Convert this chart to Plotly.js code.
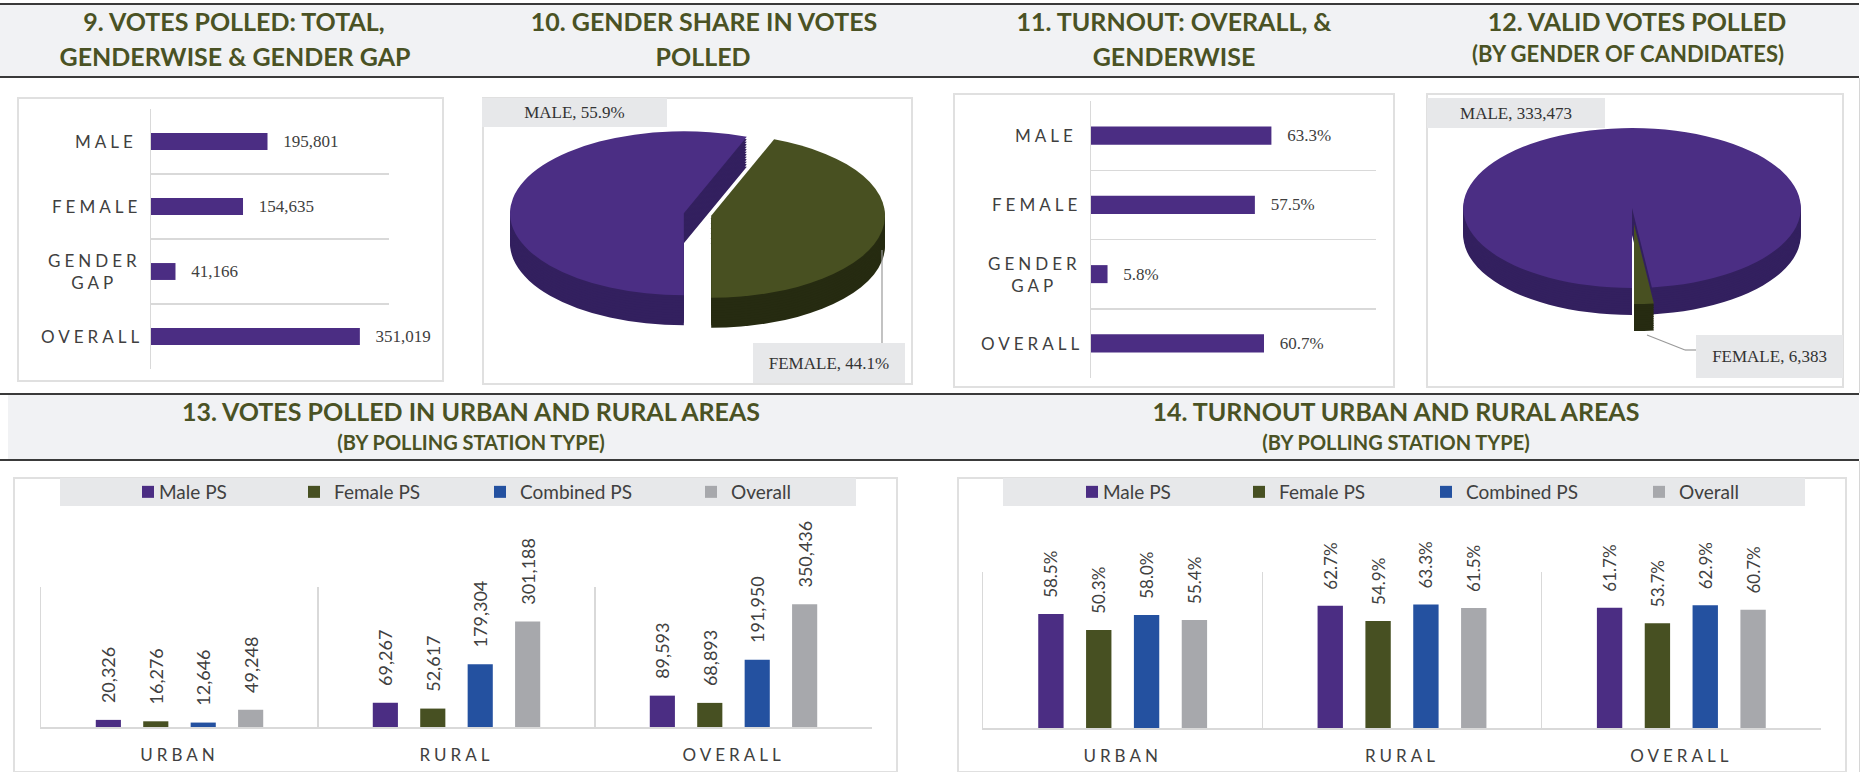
<!DOCTYPE html>
<html>
<head>
<meta charset="utf-8">
<script src="https://cdn.plot.ly/plotly-3.0.1.min.js"></script>
<style>
html,body{margin:0;padding:0;background:#fff;}
#page{position:relative;width:1871px;height:772px;overflow:hidden;background:#fff;}
.bg{position:absolute;background:#f1f2f4;}
.ln{position:absolute;background:#3a3a3a;height:2px;}
.vl{position:absolute;background:#d6d6d6;width:1px;}
.ttl{position:absolute;white-space:nowrap;color:#4a5224;font-family:Lato,'Open Sans',sans-serif;font-weight:700;line-height:1;transform:translateX(-50%);}
.box{position:absolute;box-sizing:border-box;border:2px solid #e0e0e0;background:#fff;}
.plot{position:absolute;}
#c9 .annotation-text,#c11 .annotation-text{letter-spacing:4px;}
#c13 .xtick text,#c14 .xtick text{letter-spacing:4px;}
#c13 .legendtext,#c14 .legendtext{transform:translateX(-9px);}
</style>
</head>
<body>
<div id="page">
  <div class="bg" style="left:0;top:4px;width:1859px;height:73px"></div>
  <div class="ln" style="left:0;top:3px;width:1859px"></div>
  <div class="ln" style="left:0;top:76px;width:1859px"></div>
  <div class="bg" style="left:8px;top:394px;width:1851px;height:66px"></div>
  <div class="ln" style="left:0;top:393px;width:1859px"></div>
  <div class="ln" style="left:0;top:459px;width:1859px"></div>
  <div class="vl" style="left:1859px;top:78px;height:315px"></div>
  <div class="vl" style="left:1859px;top:461px;height:311px"></div>

  <div class="ttl" style="left:234px;top:9px;font-size:25px">9. VOTES POLLED: TOTAL,</div>
  <div class="ttl" style="left:235px;top:44px;font-size:25px">GENDERWISE &amp; GENDER GAP</div>
  <div class="ttl" style="left:704px;top:9px;font-size:25px">10. GENDER SHARE IN VOTES</div>
  <div class="ttl" style="left:703px;top:44px;font-size:25px">POLLED</div>
  <div class="ttl" style="left:1174px;top:9px;font-size:25px">11. TURNOUT: OVERALL, &amp;</div>
  <div class="ttl" style="left:1174px;top:44px;font-size:25px">GENDERWISE</div>
  <div class="ttl" style="left:1637px;top:9px;font-size:25px">12. VALID VOTES POLLED</div>
  <div class="ttl" style="left:1628px;top:43px;font-size:22px">(BY GENDER OF CANDIDATES)</div>
  <div class="ttl" style="left:471px;top:399px;font-size:25px">13. VOTES POLLED IN URBAN AND RURAL AREAS</div>
  <div class="ttl" style="left:471px;top:432px;font-size:20px">(BY POLLING STATION TYPE)</div>
  <div class="ttl" style="left:1396px;top:399px;font-size:25px">14. TURNOUT URBAN AND RURAL AREAS</div>
  <div class="ttl" style="left:1396px;top:432px;font-size:20px">(BY POLLING STATION TYPE)</div>

  <div class="box" style="left:17px;top:97px;width:427px;height:285px"></div>
  <div class="box" style="left:482px;top:97px;width:431px;height:288px"></div>
  <div class="box" style="left:953px;top:93px;width:442px;height:295px"></div>
  <div class="box" style="left:1426px;top:93px;width:418px;height:295px"></div>
  <div class="box" style="left:13px;top:477px;width:885px;height:296px"></div>
  <div class="box" style="left:957px;top:477px;width:890px;height:296px"></div>

  <div id="c9" class="plot" style="left:17px;top:97px"></div>
  <div id="c10" class="plot" style="left:482px;top:97px"></div>
  <div id="c11" class="plot" style="left:953px;top:93px"></div>
  <div id="c12" class="plot" style="left:1426px;top:93px"></div>
  <div id="c13" class="plot" style="left:13px;top:477px"></div>
  <div id="c14" class="plot" style="left:957px;top:477px"></div>
</div>
<script>
// ---------------- DATA ----------------
const genderCats = ['MALE', 'FEMALE', 'GENDER GAP', 'OVERALL'];
const genderCatLabels = ['MALE', 'FEMALE', 'GENDER<br>GAP', 'OVERALL'];
const votesPolled = [195801, 154635, 41166, 351019];
const turnoutGender = [63.3, 57.5, 5.8, 60.7];

const genderLabels = ['MALE', 'FEMALE'];
const genderShareVotes = [55.9, 44.1];
const validVotesByCandGender = [333473, 6383];

const areaCats = ['URBAN', 'RURAL', 'OVERALL'];
const psTypes = ['Male PS', 'Female PS', 'Combined PS', 'Overall'];
const votesMalePS = [20326, 69267, 89593];
const votesFemalePS = [16276, 52617, 68893];
const votesCombinedPS = [12646, 179304, 191950];
const votesOverall = [49248, 301188, 350436];
const turnoutMalePS = [58.5, 62.7, 61.7];
const turnoutFemalePS = [50.3, 54.9, 53.7];
const turnoutCombinedPS = [58.0, 63.3, 62.9];
const turnoutOverall = [55.4, 61.5, 60.7];

// ---------------- STYLE ----------------
const PURPLE = '#4b2d83', OLIVE = '#475022', BLUE = '#2451a0', GRAY = '#a7a8ac';
const SERIES_COLORS = [PURPLE, OLIVE, BLUE, GRAY];
const PIE_TOP = ['#4b2e84', '#485021'];
const PIE_SIDE = ['#33205f', '#262b11'];
const TXT = '#404040', GRID = '#d9d9d9', LABELBG = '#e7e8ea';
const CFG = {staticPlot: true, displayModeBar: false};

// ---------------- HORIZONTAL BARS (9, 11) ----------------
function hbar(id, W, H, m, values, fmt, xmax) {
  const data = [{
    type: 'bar', orientation: 'h', y: genderCats, x: values,
    marker: {color: PURPLE, line: {width: 0}},
    texttemplate: '\u00a0\u00a0\u00a0' + fmt, textposition: 'outside', constraintext: 'none',
    textfont: {family: 'Liberation Serif', size: 17, color: TXT},
    cliponaxis: false, hoverinfo: 'skip'
  }];
  const annotations = genderCats.map((c, i) => ({
    xref: 'paper', yref: 'y', x: 0, y: c, xanchor: 'right', yanchor: 'middle', xshift: -20,
    text: genderCatLabels[i], showarrow: false, align: 'center',
    font: {family: 'Lato', size: 17, color: TXT}
  }));
  const layout = {
    width: W, height: H, margin: Object.assign({pad: 0, autoexpand: false}, m),
    paper_bgcolor: 'rgba(0,0,0,0)', plot_bgcolor: 'rgba(0,0,0,0)', showlegend: false, bargap: 0.74,
    xaxis: {range: [0, xmax], showgrid: false, zeroline: false, showticklabels: false, ticks: '', showline: false},
    yaxis: {type: 'category', categoryorder: 'array', categoryarray: genderCats,
      range: [genderCats.length - 0.5, -0.5], tickson: 'boundaries', showgrid: true, gridcolor: GRID, gridwidth: 1.5,
      showline: true, linecolor: GRID, linewidth: 1.5, showticklabels: false, ticks: '', zeroline: false},
    annotations
  };
  Plotly.newPlot(id, data, layout, CFG);
}
hbar('c9', 427, 285, {l: 134, r: 55, t: 12, b: 13}, votesPolled, '%{x:,}', 400000);
hbar('c11', 442, 295, {l: 138, r: 19, t: 8, b: 10}, turnoutGender, '%{x:.1f}%', 100);

// ---------------- 3D-LOOK PIES (10, 12) ----------------
const pieCss = [];
function pie3d(id, W, H, values, o, labels, leaders) {
  const maxPull = Math.max(...o.pull);
  const half = o.r * (1 + maxPull);
  const data = [];
  for (let k = o.layers; k >= 0; k--) {
    const cy = o.cy + k * o.thick / o.layers;
    data.push({
      type: 'pie', labels: genderLabels, values: values, sort: false, direction: 'clockwise', rotation: o.rotation,
      pull: o.pull, textinfo: 'none', hoverinfo: 'skip', showlegend: false,
      marker: {colors: k === 0 ? PIE_TOP : PIE_SIDE, line: {width: 0}},
      domain: {x: [(o.cx - half) / W, (o.cx + half) / W], y: [(H - cy - half) / H, (H - cy + half) / H]}
    });
  }
  const px = x => x / W, py = y => 1 - y / H;
  const annotations = labels.map(a => ({
    xref: 'paper', yref: 'paper', x: px(a.box[0]), y: py(a.box[1]), xanchor: 'left', yanchor: 'top',
    width: a.box[2] - a.box[0], height: a.box[3] - a.box[1], text: a.text, showarrow: false,
    bgcolor: LABELBG, borderpad: 0, borderwidth: 0, align: 'center', valign: 'middle',
    font: {family: 'Liberation Serif', size: 17, color: '#333'}
  }));
  const shapes = leaders.map(s => ({type: 'line', xref: 'paper', yref: 'paper',
    x0: px(s[0]), y0: py(s[1]), x1: px(s[2]), y1: py(s[3]), line: {color: '#9a9a9a', width: 1.2}}));
  pieCss.push('#' + id + ' .pielayer{transform-origin:' + o.cx + 'px 0px;transform:scaleX(' + o.scale + ');}');
  const layout = {width: W, height: H, margin: {l: 0, r: 0, t: 0, b: 0, pad: 0, autoexpand: false},
    paper_bgcolor: 'rgba(0,0,0,0)', plot_bgcolor: 'rgba(0,0,0,0)', showlegend: false, annotations, shapes};
  return () => Plotly.newPlot(id, data, layout, CFG);
}
const fmtInt = v => v.toLocaleString('en-US');
const draw10 = pie3d('c10', 431, 288, genderShareVotes,
  {cx: 215.5, cy: 117.5, r: 82, scale: 2.12, pull: [0.08, 0.08], thick: 30, layers: 12, rotation: 180},
  [{text: genderLabels[0] + ', ' + genderShareVotes[0].toFixed(1) + '%', box: [0, 1, 185, 30]},
   {text: genderLabels[1] + ', ' + genderShareVotes[1].toFixed(1) + '%', box: [271, 246, 423, 286]}],
  [[400, 246, 400, 153]]);
const draw12 = pie3d('c12', 418, 295, validVotesByCandGender,
  {cx: 206, cy: 115, r: 80, scale: 2.11, pull: [0, 0.2], thick: 27, layers: 12, rotation: 180},
  [{text: genderLabels[0] + ', ' + fmtInt(validVotesByCandGender[0]), box: [1, 5, 179, 35]},
   {text: genderLabels[1] + ', ' + fmtInt(validVotesByCandGender[1]), box: [270, 242, 417, 285]}],
  [[221, 242, 259, 257], [259, 257, 270, 257]]);
const st = document.createElement('style');
st.textContent = pieCss.join('\n');
document.head.appendChild(st);
draw10(); draw12();

// ---------------- GROUPED BARS (13, 14) ----------------
function groupBars(id, W, H, m, series, fmt, ymax, symLeft, band, labelSize) {
  const pw = W - m.l - m.r, ph = H - m.t - m.b;
  const pxX = x => (x - m.l) / pw, pyY = y => (H - m.b - y) / ph;
  const legKeys = ['legend', 'legend2', 'legend3', 'legend4'];
  const data = series.map((s, i) => ({
    type: 'bar', name: psTypes[i], x: areaCats, y: s, legend: legKeys[i],
    marker: {color: SERIES_COLORS[i], line: {width: 0}},
    texttemplate: '\u00a0\u00a0\u00a0' + fmt, textposition: 'outside', textangle: -90, constraintext: 'none',
    textfont: {family: 'Lato', size: labelSize, color: TXT}, cliponaxis: false, hoverinfo: 'skip'
  }));
  const layout = {
    width: W, height: H, margin: Object.assign({pad: 0, autoexpand: false}, m),
    paper_bgcolor: 'rgba(0,0,0,0)', plot_bgcolor: 'rgba(0,0,0,0)',
    barmode: 'group', bargap: 0.315, bargroupgap: 0.47, showlegend: true,
    xaxis: {type: 'category', tickson: 'boundaries', showgrid: true, gridcolor: GRID, gridwidth: 1.5,
      showline: true, linecolor: GRID, linewidth: 1.5, ticks: '', zeroline: false,
      tickfont: {family: 'Lato', size: 17, color: TXT}, ticklabelstandoff: 12},
    yaxis: {range: [0, ymax], showgrid: false, zeroline: false, showticklabels: false, ticks: '',
      showline: true, linecolor: GRID, linewidth: 1.5},
    shapes: [{type: 'rect', xref: 'paper', yref: 'paper', x0: pxX(band[0]), x1: pxX(band[1]),
      y0: pyY(band[3]), y1: pyY(band[2]), fillcolor: LABELBG, line: {width: 0}, layer: 'below'}]
  };
  legKeys.forEach((k, i) => {
    layout[k] = {x: pxX(symLeft[i] - 14), y: pyY((band[2] + band[3]) / 2), xanchor: 'left', yanchor: 'middle',
      orientation: 'h', bgcolor: 'rgba(0,0,0,0)', borderwidth: 0,
      font: {family: 'Lato', size: 19, color: TXT}};
  });
  Plotly.newPlot(id, data, layout, CFG);
}
groupBars('c13', 885, 293, {l: 28, r: 26, t: 110, b: 43},
  [votesMalePS, votesFemalePS, votesCombinedPS, votesOverall], '%{y:,}', 400000,
  [129, 295, 481, 692], [47, 843, 1, 29], 18);
groupBars('c14', 890, 293, {l: 26, r: 26, t: 95, b: 42},
  [turnoutMalePS, turnoutFemalePS, turnoutCombinedPS, turnoutOverall], '%{y:.1f}%', 80,
  [129, 296, 483, 696], [46, 848, 1, 29], 17);
</script>
</body>
</html>
